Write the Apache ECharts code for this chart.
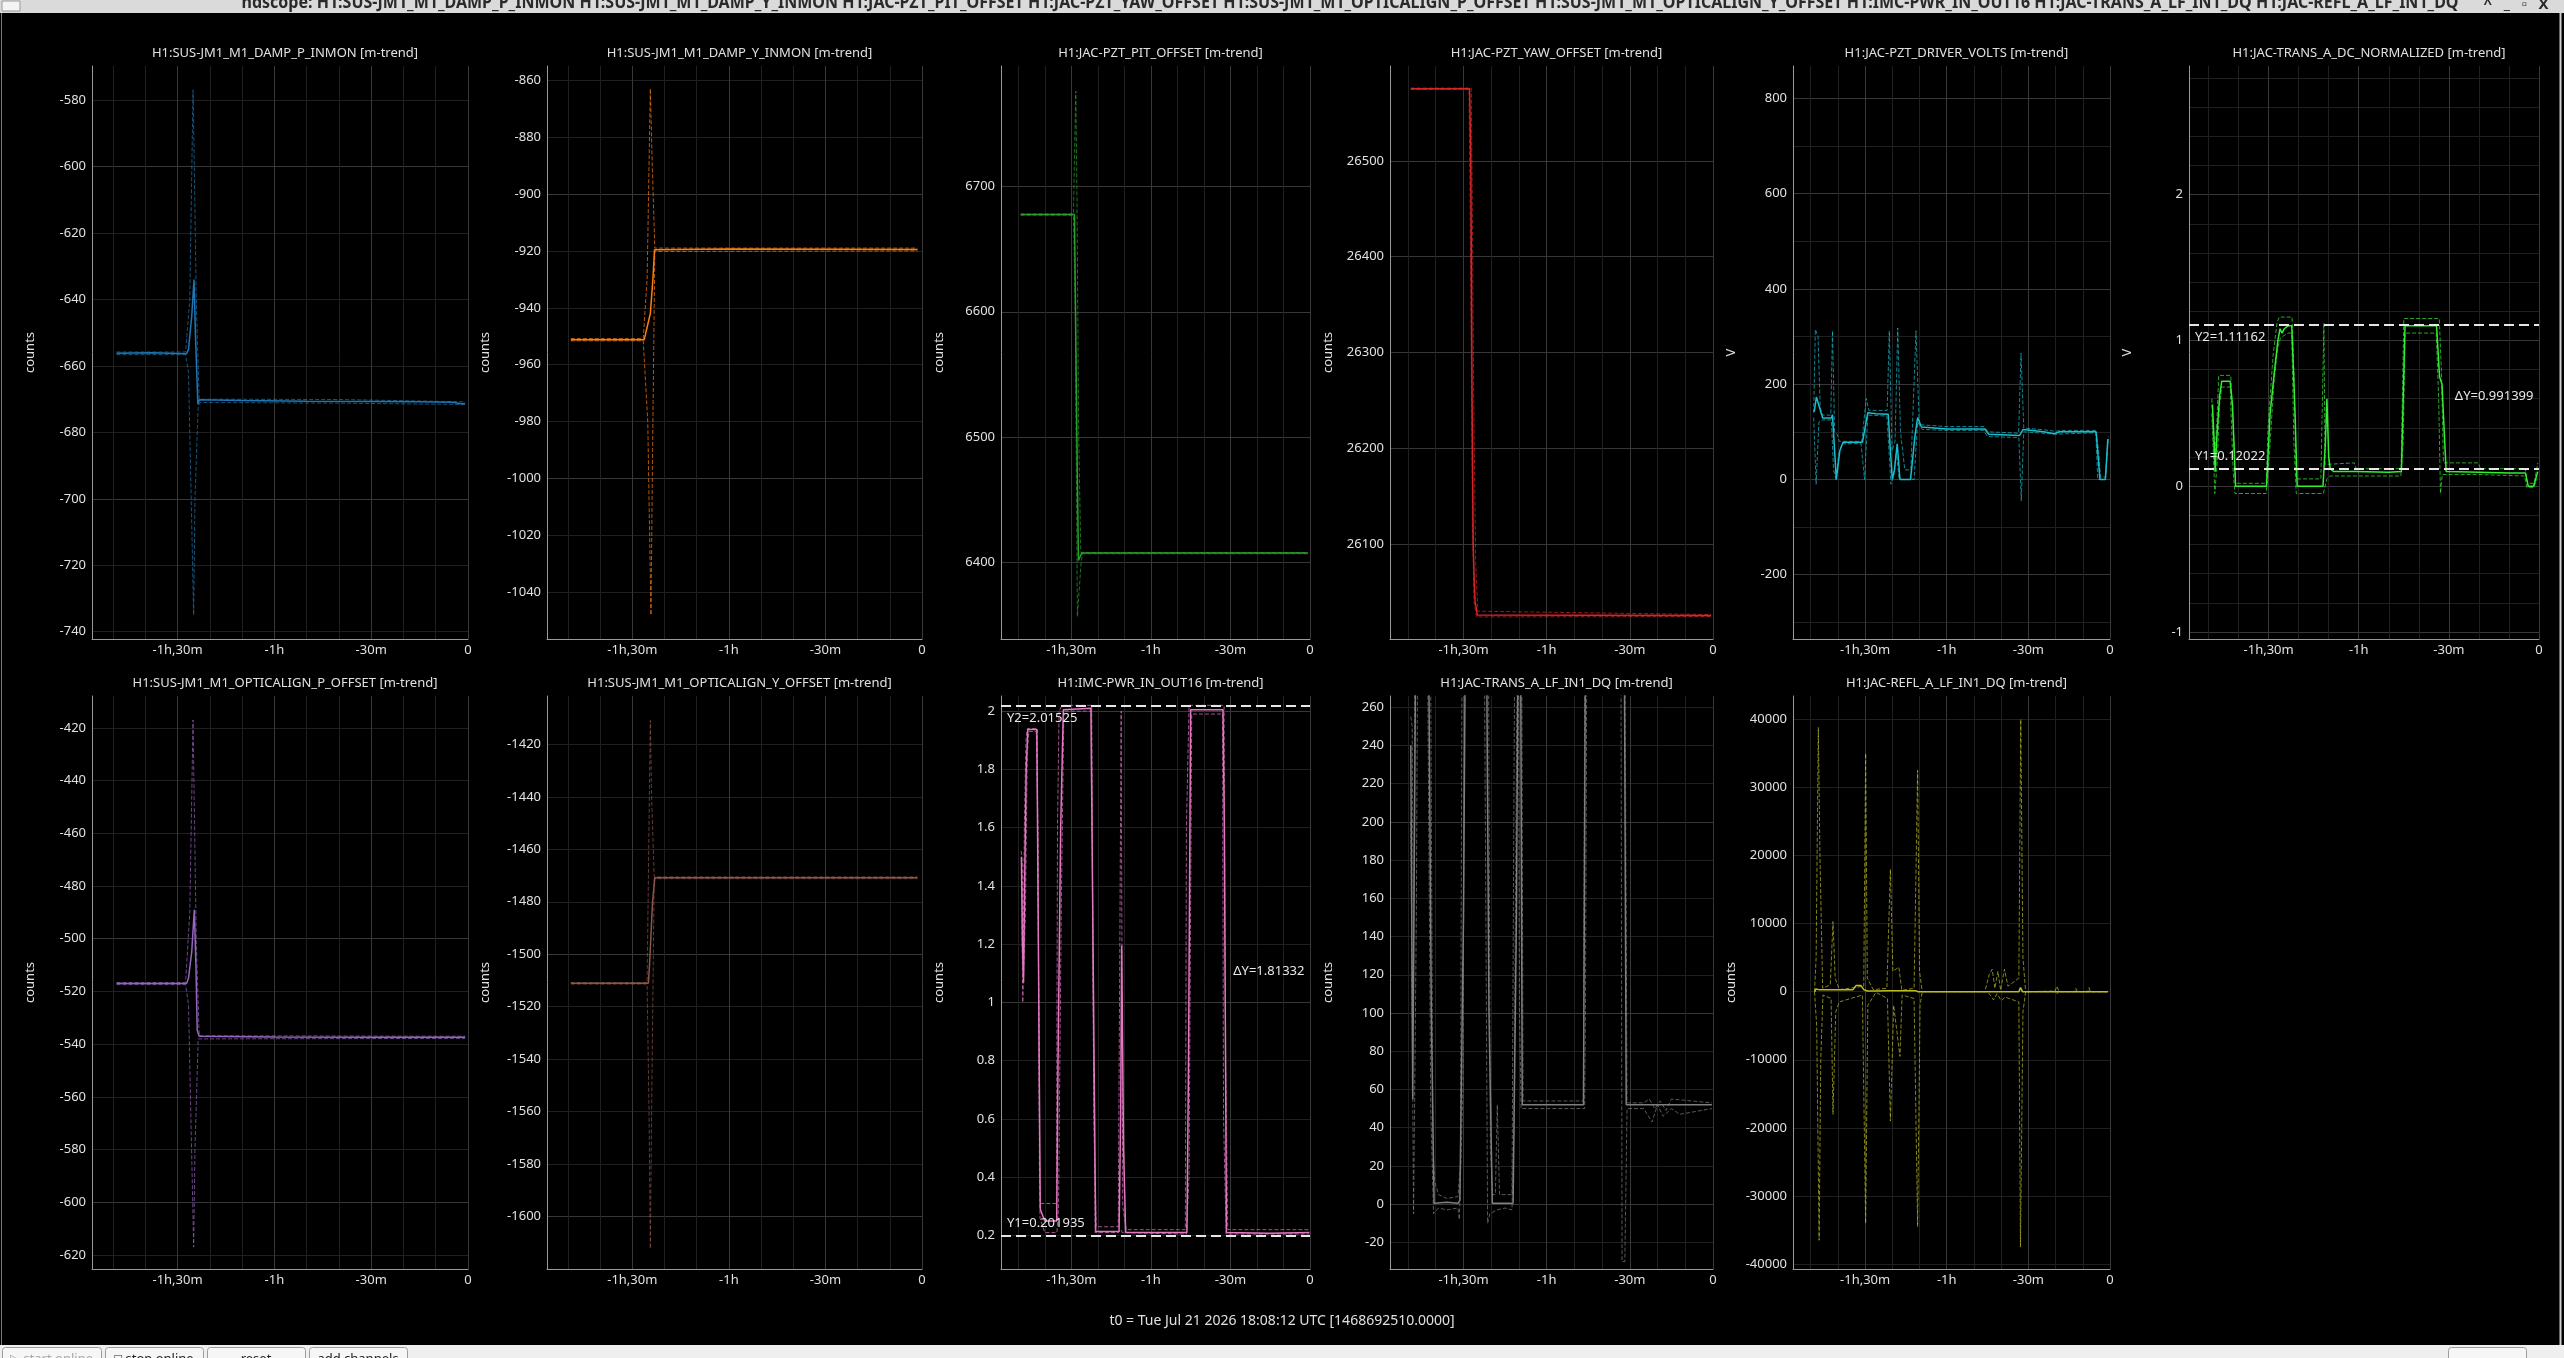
<!DOCTYPE html>
<html><head><meta charset="utf-8">
<script src="https://cdn.jsdelivr.net/npm/echarts@6/dist/echarts.min.js"></script>
<style>html,body{margin:0;padding:0;background:#000;overflow:hidden}#c{width:2564px;height:1358px}</style>
</head><body><div id="c"></div>
<script>
// ---------------- DATA ----------------
const channelNames = [
  'H1:SUS-JM1_M1_DAMP_P_INMON','H1:SUS-JM1_M1_DAMP_Y_INMON','H1:JAC-PZT_PIT_OFFSET','H1:JAC-PZT_YAW_OFFSET',
  'H1:JAC-PZT_DRIVER_VOLTS','H1:JAC-TRANS_A_DC_NORMALIZED','H1:SUS-JM1_M1_OPTICALIGN_P_OFFSET',
  'H1:SUS-JM1_M1_OPTICALIGN_Y_OFFSET','H1:IMC-PWR_IN_OUT16','H1:JAC-TRANS_A_LF_IN1_DQ','H1:JAC-REFL_A_LF_IN1_DQ'];
const windowChannels = ['H1:SUS-JM1_M1_DAMP_P_INMON','H1:SUS-JM1_M1_DAMP_Y_INMON','H1:JAC-PZT_PIT_OFFSET','H1:JAC-PZT_YAW_OFFSET',
  'H1:SUS-JM1_M1_OPTICALIGN_P_OFFSET','H1:SUS-JM1_M1_OPTICALIGN_Y_OFFSET','H1:IMC-PWR_IN_OUT16','H1:JAC-TRANS_A_LF_IN1_DQ','H1:JAC-REFL_A_LF_IN1_DQ'];
const trendSuffix = ' [m-trend]';
const yUnits = ['counts','counts','counts','counts','V','V','counts','counts','counts','counts','counts'];
const yMin = [-742.2,-1056.4,6339,26001,-335,-1.048,-625.3,-1620.1,0.085,-33.9,-40719];
const yMax = [-569.7,-855,6796,26599,868,2.882,-407.9,-1401.5,2.052,265.8,43416];
const yLabelValues = [
  [-740,-720,-700,-680,-660,-640,-620,-600,-580],
  [-1040,-1020,-1000,-980,-960,-940,-920,-900,-880,-860],
  [6400,6500,6600,6700],
  [26100,26200,26300,26400,26500],
  [-200,0,200,400,600,800],
  [-1,0,1,2],
  [-620,-600,-580,-560,-540,-520,-500,-480,-460,-440,-420],
  [-1600,-1580,-1560,-1540,-1520,-1500,-1480,-1460,-1440,-1420],
  [0.2,0.4,0.6,0.8,1,1.2,1.4,1.6,1.8,2],
  [-20,0,20,40,60,80,100,120,140,160,180,200,220,240,260],
  [-40000,-30000,-20000,-10000,0,10000,20000,30000,40000]];
const yMajorValues = [
  [-700,-600],[-1000,-900],[6400,6500,6600,6700],[26100,26200,26300,26400,26500],
  [-200,0,200,400,600,800],[-1,0,1,2],[-600,-500],[-1600,-1500],[1,2],[0,100,200],[]];
const yExtraGrid = [
  [],[],[],[],[-300,-100,100,300,500,700],
  [-0.8,-0.6,-0.4,-0.2,0.2,0.4,0.6,0.8,1.2,1.4,1.6,1.8,2.2,2.4,2.6,2.8],
  [],[],[],[],[]];
const xMinMinutes = -116.5, xMaxMinutes = 0;
const xLabelValues = [-90,-60,-30,0];
const xLabelText = ['-1h,30m','-1h','-30m','0'];
const xMinorGrid = [-110,-100,-80,-70,-50,-40,-20,-10];
const t0Label = 't0 = Tue Jul 21 2026 18:08:12 UTC [1468692510.0000]';

// cursors (panel index, Y1, Y2, ΔY text)
const cursorPanels = [5, 8];
const cursorY1 = [0.12022, 0.201935];
const cursorY2 = [1.11162, 2.01525];
const cursorDelta = ['0.991399', '1.81332'];

// series: [minutes, value]
const dampP_mean = [[-108.9,-656.2],[-98,-656.0],[-87.2,-656.3],[-86.6,-655],[-85.6,-645],[-84.9,-634],[-84.4,-652],[-83.7,-671.5],[-83.2,-670.2],[-70,-670.4],[-50,-670.6],[-30,-670.7],[-15,-670.8],[-5,-670.9],[-2,-671.4],[-0.9,-671.3]];
const dampP_min = [[-108.9,-656.6],[-87.5,-656.6],[-86.6,-662],[-85.0,-735],[-84.6,-700],[-83.6,-672],[-83.0,-671],[-40,-671.2],[-0.9,-671.6]];
const dampP_max = [[-108.9,-655.8],[-87.5,-655.8],[-86.2,-640],[-85.2,-577],[-84.8,-600],[-84.2,-640],[-83.3,-670],[-40,-670.1],[-0.9,-670.8]];

const dampY_mean = [[-109.1,-951.2],[-86.3,-951.2],[-84.4,-942],[-83.6,-930],[-83.1,-919.6],[-60,-919.3],[-30,-919.4],[-1.4,-919.5]];
const dampY_min = [[-109.1,-951.6],[-86.6,-951.6],[-85.2,-980],[-84.2,-1048],[-83.7,-990],[-83.0,-920.2],[-1.4,-920]];
const dampY_max = [[-109.1,-950.8],[-86.6,-950.8],[-85.4,-930],[-84.4,-863],[-83.8,-890],[-83.0,-919.0],[-1.4,-919]];

const pztPit_mean = [[-109.1,6677.5],[-88.8,6677.5],[-88.4,6600],[-87.9,6500],[-87.3,6401.6],[-86.6,6405],[-86.1,6407.5],[-40,6407.5],[-0.8,6407.5]];
const pztPit_min = [[-109.1,6677],[-89.2,6677],[-88.5,6600],[-87.7,6357],[-87.0,6357],[-86.3,6400],[-85.8,6407],[-0.8,6407]];
const pztPit_max = [[-109.1,6678],[-89.2,6678],[-88.3,6776],[-87.9,6700],[-87.2,6500],[-86.4,6408],[-0.8,6408]];

const pztYaw_mean = [[-109.0,26575.3],[-87.8,26575.3],[-87.4,26510],[-87.1,26370],[-86.9,26250],[-86.5,26100],[-86.1,26060],[-85.8,26040],[-85.0,26026],[-0.7,26025.5]];
const pztYaw_min = [[-109,26574.5],[-88.0,26574.5],[-87.6,26450],[-87.2,26300],[-86.7,26120],[-86.2,26040],[-85.3,26024],[-0.7,26024.5]];
const pztYaw_max = [[-109,26576],[-87.2,26576],[-86.8,26450],[-86.3,26250],[-85.6,26080],[-84.8,26030],[-0.7,26026.5]];

const volts_mean = [[-108.7,142],[-107.9,173],[-106.7,150],[-105.6,129],[-102.4,129],[-102.0,136],[-101.2,60],[-100.6,0],[-100.0,2],[-99.3,60],[-98.1,78],[-91.0,78],[-89.0,140],[-86,138],[-81.5,137],[-80.7,60],[-80.0,0],[-79.2,20],[-78.2,75],[-77.2,0],[-73.3,0],[-71.7,90],[-70.7,130],[-69.3,110],[-60,106],[-46.1,106],[-44.5,95],[-33.3,92],[-31.9,105],[-24.4,100],[-20.5,96],[-18.5,100],[-5.1,100],[-3.7,0],[-1.7,0],[-0.8,85]];
const volts_min = [[-108.9,130],[-108.0,-10],[-107.0,120],[-105.6,125],[-102.4,125],[-101.6,20],[-100.6,-2],[-99.8,50],[-98.5,75],[-91.5,75],[-90.2,0],[-89.0,135],[-82.0,133],[-80.5,-10],[-79.5,10],[-78.5,60],[-77.5,0],[-73.5,0],[-72.0,0],[-70.7,120],[-69,105],[-60,103],[-46.5,103],[-45,90],[-33.5,88],[-32.6,-45],[-31.7,100],[-20,95],[-5.2,98],[-4.5,0],[-1.7,0],[-0.8,80]];
const volts_max = [[-108.9,140],[-108.3,315],[-107.3,300],[-106.5,150],[-105.6,135],[-102.6,135],[-102.0,312],[-101.2,100],[-100.3,95],[-99.5,80],[-91.2,80],[-89.6,170],[-88.6,145],[-81.9,145],[-81.1,312],[-80.1,60],[-79.0,80],[-78.0,318],[-77.0,100],[-75.4,20],[-73.2,20],[-71.3,312],[-70.1,115],[-60,111],[-46.3,111],[-44.8,100],[-33.6,97],[-32.7,265],[-31.7,108],[-24,104],[-20,101],[-18,103],[-5.2,103],[-4.2,60],[-3.5,5],[-1.6,5],[-0.6,90]];

const transDC_mean = [[-108.7,0.56],[-108.1,0.3],[-107.8,0.1],[-107.2,0.35],[-106.3,0.62],[-105.6,0.72],[-102.8,0.72],[-102.0,0.55],[-101.0,0.0],[-95,0.0],[-90.7,0.0],[-89.5,0.5],[-88.0,0.8],[-86.9,1.0],[-86.2,1.08],[-85.5,1.05],[-84.8,1.08],[-83.5,1.1],[-82.3,1.1],[-81.2,0.5],[-80.5,0.0],[-75,0.0],[-71.9,0.0],[-71.1,0.3],[-70.6,0.6],[-70.0,0.2],[-69.5,0.12],[-68.3,0.1],[-61.1,0.1],[-50,0.095],[-45.8,0.1],[-44.6,1.1],[-40,1.1],[-34.1,1.1],[-33.1,0.75],[-32.3,0.7],[-30.9,0.1],[-19.8,0.095],[-10,0.09],[-4.5,0.09],[-3.6,0.0],[-1.8,0.0],[-0.4,0.1]];
const transDC_min = [[-108.9,0.5],[-107.9,-0.05],[-107.0,0.2],[-106.4,0.55],[-105.6,0.68],[-102.8,0.68],[-101.8,0.1],[-101.2,-0.05],[-90.8,-0.05],[-89.8,0.2],[-88.2,0.72],[-87.0,0.95],[-86.0,1.02],[-83.5,1.05],[-82.3,1.05],[-81.6,0.3],[-80.8,-0.05],[-71.8,-0.05],[-71.2,0.0],[-70.6,0.05],[-69.5,0.07],[-61,0.07],[-46,0.07],[-45.2,0.3],[-44.6,1.05],[-34.2,1.05],[-33.4,0.6],[-32.8,-0.05],[-32.2,0.08],[-20,0.08],[-4.8,0.07],[-4.0,-0.01],[-1.8,-0.01],[-0.6,0.05]];
const transDC_max = [[-108.9,0.6],[-108.0,0.15],[-107.2,0.45],[-106.6,0.76],[-102.6,0.76],[-101.6,0.3],[-101.0,0.02],[-90.8,0.02],[-90.2,0.4],[-88.5,0.9],[-87.2,1.12],[-86.5,1.16],[-82.2,1.16],[-81.6,0.8],[-80.8,0.05],[-72.6,0.05],[-71.6,1.12],[-71.2,0.15],[-70.4,0.15],[-69.8,0.16],[-61.5,0.16],[-60.8,0.12],[-45.9,0.12],[-45.0,1.15],[-33.2,1.15],[-32.5,0.8],[-31.8,0.16],[-20.2,0.16],[-19.5,0.12],[-4.6,0.12],[-3.8,0.02],[-1.6,0.02],[-0.4,0.16]];

const optP_mean = [[-108.9,-517],[-87.2,-517],[-86.6,-515],[-85.6,-505],[-84.8,-489],[-84.3,-510],[-83.9,-534.7],[-83.3,-537],[-60,-537.3],[-30,-537.4],[-0.9,-537.4]];
const optP_min = [[-108.9,-517.4],[-87.5,-517.4],[-86.6,-525],[-85.0,-617],[-84.6,-580],[-83.6,-538],[-83.0,-537.8],[-0.9,-537.8]];
const optP_max = [[-108.9,-516.6],[-87.5,-516.6],[-86.2,-490],[-85.2,-417],[-84.8,-450],[-84.2,-500],[-83.3,-536.8],[-0.9,-537]];

const optY_mean = [[-109.1,-1511.1],[-85.0,-1511.1],[-84.6,-1503],[-83.7,-1480],[-83.0,-1470.8],[-50,-1470.8],[-1.4,-1470.8]];
const optY_min = [[-109.1,-1511.4],[-85.4,-1511.4],[-84.8,-1560],[-84.4,-1612.3],[-84.0,-1560],[-83.2,-1471.2],[-1.4,-1471.2]];
const optY_max = [[-109.1,-1510.8],[-85.4,-1510.8],[-84.8,-1450],[-84.4,-1410.8],[-84.0,-1440],[-83.2,-1470.5],[-1.4,-1470.5]];

const pwr_mean = [[-108.8,1.5],[-108.4,1.2],[-108.0,1.068],[-107.6,1.4],[-107.0,1.8],[-106.4,1.937],[-103.0,1.937],[-102.4,1.2],[-101.7,0.29],[-100,0.25],[-95.5,0.25],[-95.0,0.8],[-94.0,1.6],[-93.0,2.005],[-82.6,2.01],[-81.8,1.2],[-80.8,0.214],[-72.0,0.214],[-71.4,0.6],[-71.0,1.195],[-70.3,0.5],[-69.5,0.21],[-46.4,0.21],[-45.8,0.8],[-45.0,2.005],[-32.8,2.005],[-32.3,1.6],[-31.5,0.21],[-15,0.208],[-0.2,0.21]];
const pwr_min = [[-108.8,1.45],[-108.3,1.0],[-107.8,1.0],[-107.3,1.3],[-106.6,1.85],[-106.0,1.93],[-103.2,1.93],[-102.6,1.6],[-101.8,0.26],[-100,0.21],[-95.4,0.21],[-94.8,0.3],[-93.8,1.3],[-92.8,2.0],[-82.4,2.0],[-81.8,1.0],[-81.0,0.21],[-72.2,0.21],[-71.2,0.22],[-70.8,0.21],[-46.6,0.205],[-45.6,0.4],[-44.6,1.99],[-33.0,1.99],[-32.6,0.6],[-31.6,0.205],[-0.2,0.205]];
const pwr_max = [[-108.9,1.52],[-108.5,1.48],[-108.1,1.1],[-107.7,1.6],[-107.1,1.9],[-106.6,1.94],[-102.8,1.94],[-102.0,0.4],[-101.6,0.31],[-95.6,0.31],[-95.2,1.6],[-94.6,2.0],[-93.5,2.02],[-82.3,2.02],[-81.5,0.6],[-80.6,0.23],[-72.3,0.23],[-71.2,2.0],[-70.6,0.3],[-69.3,0.22],[-47,0.22],[-46.6,1.6],[-45.6,2.02],[-32.4,2.02],[-31.8,0.8],[-31.0,0.22],[-0.2,0.22]];

const transLF_mean = [[-109.0,240],[-108.3,55],[-107.2,300],[-102.6,300],[-101.6,100],[-100.6,0.5],[-96,1],[-92,0.5],[-91.3,2],[-90.0,150],[-89.3,300],[-81.7,300],[-80.8,100],[-79.6,0.5],[-72.1,0.5],[-70.9,150],[-70.3,300],[-69.4,300],[-68.8,52],[-46.7,52],[-46.0,300],[-32.0,300],[-31.3,52],[-20,52],[-10,52],[-0.4,52]];
const transLF_min = [[-109.0,200],[-108.0,-5],[-107.0,150],[-106.5,300],[-103.0,300],[-101.8,50],[-100.8,-5],[-99,-2],[-96,-3],[-92,-2],[-91.5,-8],[-90.2,60],[-89.5,300],[-82.5,300],[-81.3,-10],[-80.5,-5],[-78,-3],[-75,-2],[-72.5,-3],[-71.8,40],[-70.8,250],[-70.2,300],[-69.8,100],[-69.2,50],[-46.3,50],[-46.0,100],[-45.5,300],[-33.2,300],[-32.8,-30],[-31.8,-30],[-31.0,50],[-25,50],[-22,43],[-20,52],[-18,46],[-15,50],[-12,47],[-0.4,50]];
const transLF_max = [[-109.0,255],[-108.5,250],[-108.0,120],[-107.5,300],[-101.9,300],[-101.0,30],[-100.4,12],[-99,5],[-96,3],[-92,4],[-91.1,20],[-90.5,300],[-81,300],[-80.3,30],[-79.5,5],[-78.5,5],[-77.8,52],[-77.0,5],[-72.5,5],[-71.5,300],[-69.0,300],[-68.5,54],[-46.8,54],[-46.2,300],[-31.8,300],[-31.0,53],[-25,53],[-23,55],[-21,50],[-19,54],[-17,49],[-15,55],[-0.4,53]];

const refl_mean = [[-108.5,0],[-108.1,400],[-107.0,300],[-105.6,270],[-94.5,270],[-93.3,900],[-91.5,900],[-90.5,300],[-89.2,100],[-86,100],[-81.5,150],[-71.5,150],[-70.5,0],[-45,0],[-33.5,0],[-32.9,600],[-32.2,0],[-0.8,0]];
const refl_max = [[-108.6,0],[-108.0,5000],[-107.2,38800],[-106.6,20000],[-105.6,500],[-102.8,1000],[-101.8,10300],[-101.0,2000],[-99.5,300],[-90.5,800],[-89.8,35000],[-89.2,2000],[-87,300],[-82,500],[-80.7,18000],[-79.8,3000],[-77.6,3600],[-76.5,200],[-72,500],[-70.7,32500],[-70.0,3000],[-69,0],[-46,0],[-44.4,2500],[-43.3,3300],[-42.3,500],[-41.2,3000],[-40.2,200],[-38.8,3300],[-37.5,800],[-33.5,2000],[-32.8,40000],[-32.0,5000],[-31,0],[-20.2,100],[-19.5,800],[-18.7,0],[-13.0,0],[-12.6,500],[-12.0,0],[-8.2,0],[-7.7,600],[-7.2,0],[-0.8,0]];
const refl_min = [[-108.6,0],[-107.8,-5000],[-106.9,-36500],[-106.3,-10000],[-105.5,-500],[-102.5,-1000],[-101.8,-18000],[-100.8,-3000],[-99.5,-1500],[-91,-500],[-89.8,-34000],[-89.0,-2000],[-86,-100],[-81.8,-1000],[-80.7,-19000],[-79.5,-2000],[-77.2,-9500],[-76.4,-500],[-72,-1000],[-70.7,-34500],[-69.8,-2000],[-69,0],[-45,0],[-44.0,-500],[-42.8,-1200],[-41.5,-300],[-40.0,-1300],[-38.5,-800],[-33.5,-1500],[-32.9,-37500],[-32.0,-3000],[-31,0],[-20,0],[-19.5,-300],[-19,0],[-0.8,0]];

const panelMean = [dampP_mean,dampY_mean,pztPit_mean,pztYaw_mean,volts_mean,transDC_mean,optP_mean,optY_mean,pwr_mean,transLF_mean,refl_mean];
const panelMin  = [dampP_min,dampY_min,pztPit_min,pztYaw_min,volts_min,transDC_min,optP_min,optY_min,pwr_min,transLF_min,refl_min];
const panelMax  = [dampP_max,dampY_max,pztPit_max,pztYaw_max,volts_max,transDC_max,optP_max,optY_max,pwr_max,transLF_max,refl_max];

// ---------------- LAYOUT / STYLE ----------------
const gridBoxes = [
  [92,66,376,573],[547,66,375,573],[1001,66,309,573],[1390,66,323,573],[1793,66,317,573],[2189,66,350,573],
  [92,696,376,573],[547,696,375,573],[1001,696,309,573],[1390,696,323,573],[1793,696,317,573]];
const seriesColors = ['#1f77b4','#ff7f0e','#2ca02c','#d62728','#17becf','#33ee33','#9467bd','#8c564b','#e377c2','#7f7f7f','#bcbd22'];
const FONT = 'Noto Sans';
const MINOR = '#202020', MAJOR = '#383838', AXIS = '#9a9a9a', TXT = '#e0e0e0';

function near(a, b) { return Math.abs(a - b) < 1e-9 * Math.max(1, Math.abs(a)); }
function fmtNum(v) { return String(parseFloat(Number(v).toPrecision(8))); }

const grid = [], xAxis = [], yAxis = [], series = [], title = [];
const xAll = xMinorGrid.concat(xLabelValues).sort((a,b)=>a-b).filter(v => v >= xMinMinutes && v <= xMaxMinutes);
const xColors = xAll.map(v => xLabelValues.some(m => near(m, v)) ? MAJOR : MINOR);

gridBoxes.forEach((b, i) => {
  grid.push({left: b[0], top: b[1], width: b[2], height: b[3], containLabel: false, outerBoundsMode: 'none', show: false});
  title.push({text: channelNames[i] + trendSuffix, left: b[0] + b[2] / 2, top: b[1] - 24, textAlign: 'center',
    textStyle: {color: TXT, fontSize: 13, fontWeight: 'normal', fontFamily: FONT}});
  xAxis.push({type: 'value', gridIndex: i, min: xMinMinutes, max: xMaxMinutes,
    axisLine: {show: true, onZero: false, lineStyle: {color: AXIS, width: 1}},
    axisTick: {show: false, customValues: xAll},
    axisLabel: {customValues: xLabelValues, color: TXT, fontSize: 13, fontFamily: FONT, margin: 5,
      formatter: v => { const k = xLabelValues.findIndex(m => near(m, v)); return k >= 0 ? xLabelText[k] : ''; }},
    splitLine: {show: true, lineStyle: {color: xColors, width: 1}}});
  const yAll = Array.from(new Set(yLabelValues[i].concat(yMajorValues[i], yExtraGrid[i])))
    .filter(v => v > yMin[i] && v < yMax[i]).sort((a,b)=>a-b);
  const yColors = yAll.map(v => yMajorValues[i].some(m => near(m, v)) ? MAJOR : MINOR);
  yAxis.push({type: 'value', gridIndex: i, min: yMin[i], max: yMax[i],
    name: yUnits[i], nameLocation: 'middle', nameRotate: 90, nameGap: 55, nameMoveOverlap: false,
    nameTextStyle: {color: TXT, fontSize: 13, fontFamily: FONT},
    axisLine: {show: true, onZero: false, lineStyle: {color: AXIS, width: 1}},
    axisTick: {show: false, customValues: yAll},
    axisLabel: {customValues: yLabelValues[i].filter(v => v >= yMin[i] && v <= yMax[i]), color: TXT, fontSize: 13, fontFamily: FONT, margin: 6,
      formatter: v => fmtNum(v)},
    splitLine: {show: true, lineStyle: {color: yColors, width: 1}}});
  const col = seriesColors[i];
  const dashed = {color: col, width: 1, type: [4, 2], opacity: 0.7};
  series.push({type: 'line', xAxisIndex: i, yAxisIndex: i, data: panelMin[i], showSymbol: false, symbol: 'none', lineStyle: dashed, z: 2, silent: true});
  series.push({type: 'line', xAxisIndex: i, yAxisIndex: i, data: panelMax[i], showSymbol: false, symbol: 'none', lineStyle: dashed, z: 2, silent: true});
  const mean = {type: 'line', xAxisIndex: i, yAxisIndex: i, data: panelMean[i], showSymbol: false, symbol: 'none',
    lineStyle: {color: col, width: 1.5}, z: 3, silent: true};
  const c = cursorPanels.indexOf(i);
  if (c >= 0) {
    const lblStyle = {color: '#e8e8e8', fontSize: 13, fontFamily: FONT, distance: 6};
    mean.markLine = {silent: true, symbol: 'none', animation: false,
      lineStyle: {color: '#e6e6e6', width: 2, type: [10, 5]},
      data: [
        {yAxis: cursorY2[c], label: Object.assign({show: true, position: 'insideStartBottom', formatter: 'Y2=' + fmtNum(cursorY2[c])}, lblStyle)},
        {yAxis: cursorY1[c], label: Object.assign({show: true, position: 'insideStartTop', formatter: 'Y1=' + fmtNum(cursorY1[c])}, lblStyle)}
      ]};
    mean.markPoint = {silent: true, animation: false, symbol: 'rect', symbolSize: 1,
      itemStyle: {color: 'rgba(0,0,0,0)'},
      label: {show: true, position: 'left', distance: 5, color: '#e8e8e8', fontSize: 13, fontFamily: FONT},
      data: [{coord: [xMaxMinutes - 0.01, (cursorY1[c] + cursorY2[c]) / 2], value: 0,
        label: {show: true, position: 'left', distance: 5, color: '#e8e8e8', fontSize: 13, fontFamily: FONT, formatter: '\u0394Y=' + cursorDelta[c]}}]};
  }
  series.push(mean);
});

const W = 2564, H = 1358;
const graphic = [
  {type: 'rect', shape: {x: 0, y: 0, width: W, height: 13}, style: {fill: '#dadada'}, z: 10},
  {type: 'text', x: 1350, y: 12, scaleX: 0.89, style: {text: 'ndscope: ' + windowChannels.join(' '), fill: '#2a2a2a',
    font: 'bold 18px "Noto Sans"', textAlign: 'center', textVerticalAlign: 'bottom'}, z: 11},
  {type: 'rect', shape: {x: 2, y: 1, width: 18, height: 10}, style: {fill: '#f4f4f4', stroke: '#9a9a9a', lineWidth: 1}, z: 11},
  {type: 'text', x: 2516, y: 12, style: {text: '^   _   \u25ab   X', fill: '#2a2a2a', font: 'bold 15px "Noto Sans"', textAlign: 'center', textVerticalAlign: 'bottom'}, z: 11},
  {type: 'line', shape: {x1: 1.5, y1: 13, x2: 1.5, y2: 1345}, style: {stroke: '#7a7a7a', lineWidth: 1}, z: 10},
  {type: 'line', shape: {x1: 2560.5, y1: 13, x2: 2560.5, y2: 1345}, style: {stroke: '#d0d0d0', lineWidth: 2}, z: 10},
  {type: 'text', x: 1282, y: 1321, style: {text: t0Label, fill: TXT, font: '14px "Noto Sans"', textAlign: 'center', textVerticalAlign: 'middle'}, z: 10},
  {type: 'rect', shape: {x: 0, y: 1345, width: W, height: 13}, style: {fill: '#efefef'}, z: 10}
];
const buttons = [[2,101,'\u25b7 start online','#a8a8a8'],[105,203,'\u25a1 stop online','#222'],[207,305,'reset','#222'],[309,407,'add channels','#222'],[2448,2526,'','#222']];
buttons.forEach(bt => {
  graphic.push({type: 'rect', shape: {x: bt[0] + 0.5, y: 1347.5, width: bt[1] - bt[0], height: 20, r: 3}, style: {fill: '#f6f6f6', stroke: '#9c9c9c', lineWidth: 1}, z: 11});
  if (bt[2]) graphic.push({type: 'text', x: (bt[0] + bt[1]) / 2, y: 1353, style: {text: bt[2], fill: bt[3], font: '13px "Noto Sans"', textAlign: 'center', textVerticalAlign: 'top'}, z: 12});
});

const chart = echarts.init(document.getElementById('c'), null, {width: W, height: H, renderer: 'canvas'});
chart.setOption({backgroundColor: '#000', animation: false, title, grid, xAxis, yAxis, series, graphic, tooltip: {show: false}});
</script></body></html>
